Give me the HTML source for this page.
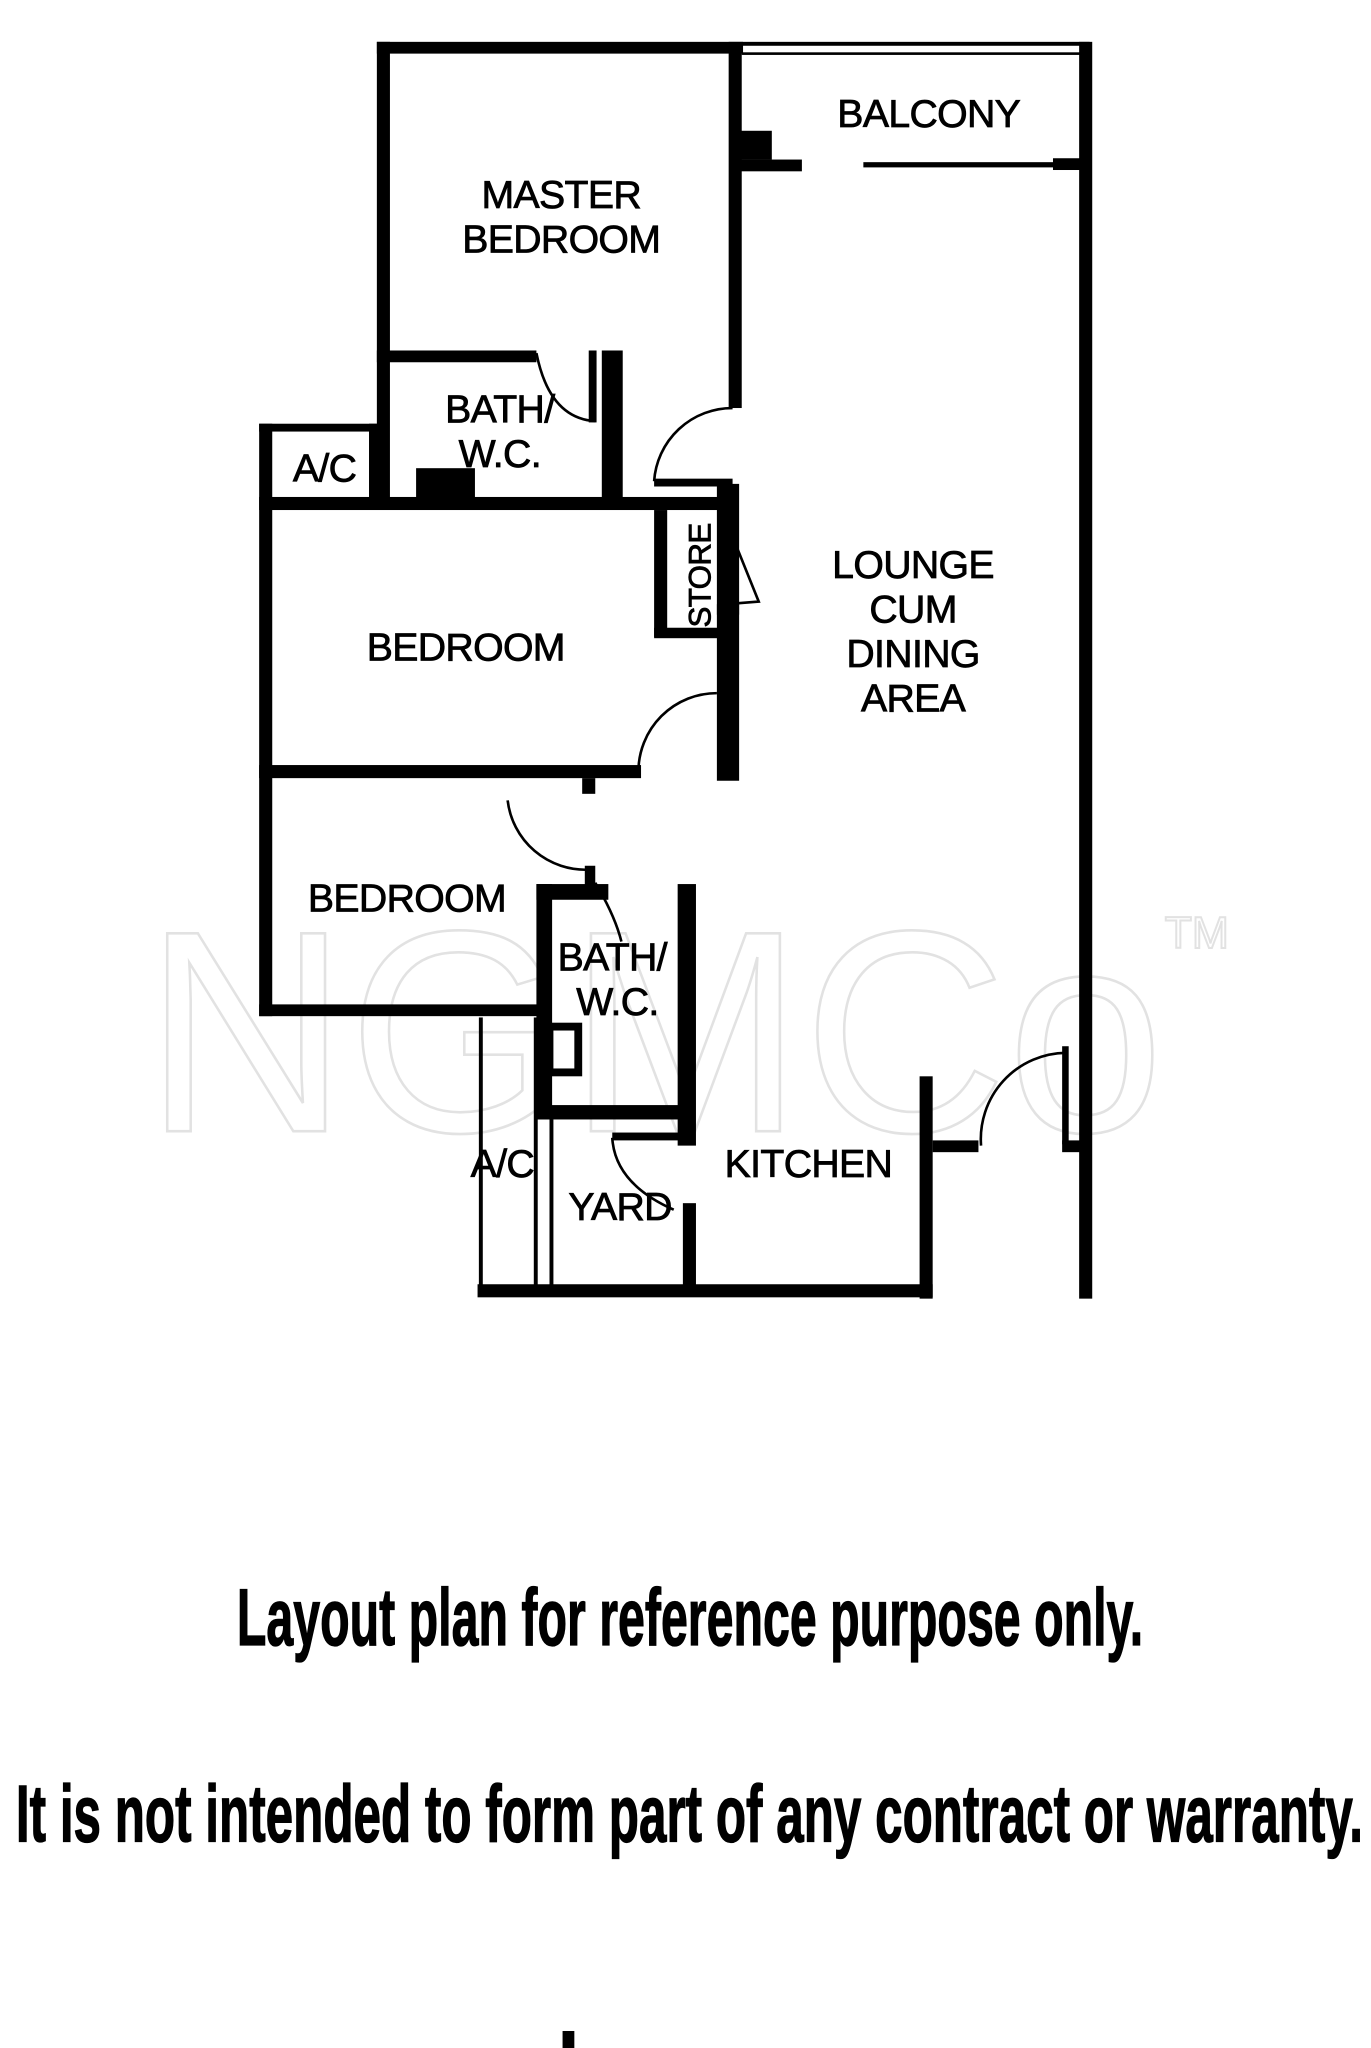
<!DOCTYPE html>
<html><head><meta charset="utf-8"><style>
html,body{margin:0;padding:0;background:#fff;}
svg{display:block;}
</style></head><body>
<svg width="1371" height="2048" viewBox="0 0 1048 1566" xmlns="http://www.w3.org/2000/svg">
<rect width="1048" height="1566" fill="#fff"/>
<!-- watermark -->
<text x="500" y="865" text-anchor="middle" font-family="Liberation Sans, sans-serif" font-size="220" fill="none" stroke="#e2e2e2" stroke-width="2" textLength="780" lengthAdjust="spacingAndGlyphs">NGMCo</text>
<text x="915" y="725" text-anchor="middle" font-family="Liberation Sans, sans-serif" font-size="34" fill="none" stroke="#e2e2e2" stroke-width="1.5">TM</text>
<g fill="#000">
<rect x="288" y="32" width="280" height="9"/>
<rect x="288" y="32" width="10" height="355"/>
<rect x="557" y="32" width="10" height="280"/>
<rect x="567" y="32" width="266" height="3"/>
<rect x="567" y="40" width="266" height="2"/>
<rect x="825" y="32" width="10" height="961"/>
<rect x="565" y="100" width="25" height="22"/>
<rect x="565" y="122" width="48" height="9"/>
<rect x="660" y="124" width="150" height="4"/>
<rect x="805" y="121" width="25" height="9"/>
<rect x="288" y="268" width="122" height="9"/>
<rect x="460" y="268" width="16" height="115"/>
<rect x="450" y="268" width="6" height="55"/>
<rect x="198" y="324" width="92" height="6"/>
<rect x="198" y="324" width="10" height="453"/>
<rect x="282" y="324" width="8" height="60"/>
<rect x="198" y="380" width="362" height="10"/>
<rect x="318" y="358" width="45" height="25"/>
<rect x="500" y="366" width="60" height="6"/>
<rect x="500" y="390" width="10" height="97"/>
<rect x="500" y="480" width="55" height="8"/>
<rect x="548" y="370" width="17" height="100"/>
<rect x="548" y="462" width="17" height="135"/>
<rect x="198" y="585" width="292" height="10"/>
<rect x="445" y="595" width="10" height="12"/>
<rect x="198" y="768" width="218" height="9"/>
<rect x="410" y="676" width="12" height="180"/>
<rect x="410" y="676" width="55" height="12"/>
<rect x="447" y="662" width="8" height="25"/>
<rect x="518" y="676" width="14" height="200"/>
<rect x="410" y="845" width="120" height="11"/>
<rect x="420" y="785" width="22" height="35" fill="none" stroke="#000" stroke-width="6"/>
<rect x="366" y="778" width="3" height="208"/>
<rect x="408" y="778" width="3" height="208"/>
<rect x="420" y="856" width="3" height="130"/>
<rect x="468" y="866" width="60" height="6"/>
<rect x="522" y="920" width="10" height="66"/>
<rect x="365" y="982" width="348" height="10"/>
<rect x="703" y="823" width="10" height="170"/>
<rect x="713" y="872" width="35" height="9"/>
<rect x="812" y="872" width="15" height="9"/>
<rect x="812" y="800" width="5" height="75"/>
</g>
<g fill="none" stroke="#000" stroke-width="2">
<path d="M410 270 Q420 320 455 322"/>
<path d="M500 368 A60 60 0 0 1 560 312"/>
<path d="M555 398 L580 460 L555 462"/>
<path d="M488 590 A60 60 0 0 1 548 530"/>
<path d="M388 612 A60 60 0 0 0 450 665"/>
<path d="M455 675 Q470 700 475 720"/>
<path d="M468 870 Q470 905 515 925"/>
<path d="M750 876 A66 66 0 0 1 815 805"/>
</g>
<g font-family="Liberation Sans, Arial, sans-serif" font-size="30" fill="#000" stroke="#000" stroke-width="0.6" text-anchor="middle" letter-spacing="-0.5">
<text x="710" y="97">BALCONY</text>
<text x="429" y="159">MASTER</text>
<text x="429" y="193">BEDROOM</text>
<text x="382" y="323">BATH/</text>
<text x="382" y="357">W.C.</text>
<text x="248" y="368">A/C</text>
<text x="356" y="505">BEDROOM</text>
<text x="698" y="442">LOUNGE</text>
<text x="698" y="476">CUM</text>
<text x="698" y="510">DINING</text>
<text x="698" y="544">AREA</text>
<text x="311" y="697">BEDROOM</text>
<text x="468" y="742">BATH/</text>
<text x="472" y="776">W.C.</text>
<text x="384" y="900">A/C</text>
<text x="474" y="933">YARD</text>
<text x="618" y="900">KITCHEN</text>
<text transform="translate(543,440) rotate(-90)" font-size="24">STORE</text>
</g>
<g font-family="Liberation Sans Narrow, Liberation Sans, sans-serif" font-weight="bold" font-size="62" fill="#000" stroke="#000" stroke-width="1">
<text x="181" y="1258" textLength="693" lengthAdjust="spacingAndGlyphs">Layout plan for reference purpose only.</text>
<text x="12" y="1408" textLength="1030" lengthAdjust="spacingAndGlyphs">It is not intended to form part of any contract or warranty.</text>
</g>
<rect x="430" y="1553" width="9" height="13" fill="#000"/>
</svg>
</body></html>
